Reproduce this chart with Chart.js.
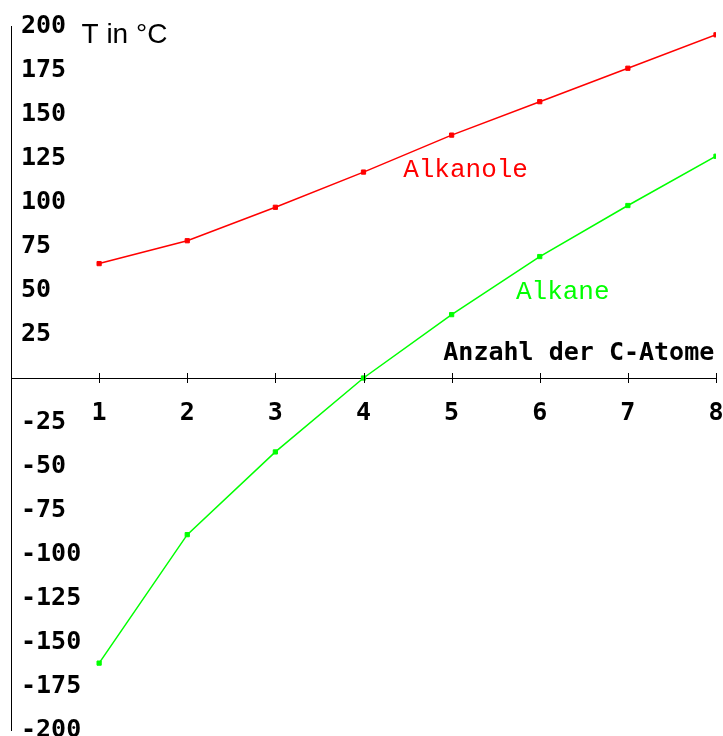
<!DOCTYPE html>
<html>
<head>
<meta charset="utf-8">
<script src="https://cdn.jsdelivr.net/npm/chart.js@4"></script>
<style>
  html, body { margin: 0; padding: 0; background: #fff; }
  canvas { display: block; }
</style>
</head>
<body>
<canvas id="myChart" width="723" height="736"></canvas>
<script>
// data (boiling points in °C)
const atoms = [1, 2, 3, 4, 5, 6, 7, 8];
const alkanole = [65, 78, 97, 117, 138, 157, 176, 195];
const alkane = [-162, -89, -42, 0, 36, 69, 98, 126];
const yTicks = [200, 175, 150, 125, 100, 75, 50, 25, -25, -50, -75, -100, -125, -150, -175, -200];

const monoBold = { family: '"DejaVu Sans Mono", monospace', size: 25, weight: 'bold' };

// free text placed in data coordinates
const notes = [
  { text: 'Alkanole', x: 4.45, y: 118, color: '#ff0000', align: 'left', font: '26px "Liberation Mono", monospace' },
  { text: 'Alkane', x: 5.73, y: 49, color: '#00ff00', align: 'left', font: '26px "Liberation Mono", monospace' },
  { text: 'Anzahl der C-Atome', x: 7.98, y: 14, color: '#000', align: 'right', font: 'bold 25px "DejaVu Sans Mono", monospace' },
  { text: 'T in °C', x: 0.8, y: 195, color: '#000', align: 'left', font: '28px "Liberation Sans", Arial, sans-serif' }
];

const extras = {
  id: 'extras',
  afterDraw(chart) {
    const ctx = chart.ctx;
    const xs = chart.scales.x;
    const ys = chart.scales.y;
    const y0 = ys.getPixelForValue(0);
    ctx.save();
    // small ticks crossing the x axis
    ctx.strokeStyle = '#000';
    ctx.lineWidth = 1;
    atoms.forEach(a => {
      const px = Math.round(xs.getPixelForValue(a)) + 0.5;
      ctx.beginPath();
      ctx.moveTo(px, y0 - 5);
      ctx.lineTo(px, y0 + 5);
      ctx.stroke();
    });
    notes.forEach(n => {
      ctx.font = n.font;
      ctx.fillStyle = n.color;
      ctx.textAlign = n.align;
      ctx.textBaseline = 'middle';
      ctx.fillText(n.text, xs.getPixelForValue(n.x), ys.getPixelForValue(n.y));
    });
    ctx.restore();
  }
};

// drop the label overhang padding so the plot runs to the edges
const noOverhang = scale => {
  scale.paddingLeft = 0;
  scale.paddingRight = 0;
  scale.paddingTop = 0;
  scale.paddingBottom = 0;
};

const ctx = document.getElementById('myChart').getContext('2d');
const myChart = new Chart(ctx, {
  type: 'line',
  data: {
    datasets: [
      {
        label: 'Alkanole',
        data: atoms.map((a, i) => ({ x: a, y: alkanole[i] })),
        borderColor: '#ff0000',
        backgroundColor: '#ff0000',
        borderWidth: 1.5,
        pointStyle: 'rect',
        pointRadius: 3,
        pointBorderWidth: 1,
        tension: 0
      },
      {
        label: 'Alkane',
        data: atoms.map((a, i) => ({ x: a, y: alkane[i] })),
        borderColor: '#00ff00',
        backgroundColor: '#00ff00',
        borderWidth: 1.5,
        pointStyle: 'rect',
        pointRadius: 3,
        pointBorderWidth: 1,
        tension: 0
      }
    ]
  },
  options: {
    responsive: false,
    animation: false,
    layout: { padding: { left: -9, right: 7, top: 26, bottom: 6 } },
    plugins: {
      legend: { display: false },
      tooltip: { enabled: false }
    },
    scales: {
      x: {
        type: 'linear',
        min: 0,
        max: 8,
        position: { y: 0 },
        afterBuildTicks: scale => { scale.ticks = atoms.map(v => ({ value: v })); },
        afterFit: noOverhang,
        grid: { display: false },
        border: { display: true, color: '#000', width: 1 },
        ticks: { color: '#000', font: monoBold, padding: 12, maxRotation: 0, autoSkip: false }
      },
      y: {
        type: 'linear',
        min: -200,
        max: 200,
        position: 'left',
        afterBuildTicks: scale => { scale.ticks = yTicks.map(v => ({ value: v })); },
        afterFit: noOverhang,
        grid: { display: false, drawTicks: false },
        border: { display: true, color: '#000', width: 1 },
        ticks: { color: '#000', font: monoBold, mirror: true, padding: 10, autoSkip: false }
      }
    }
  },
  plugins: [extras]
});
</script>
</body>
</html>
